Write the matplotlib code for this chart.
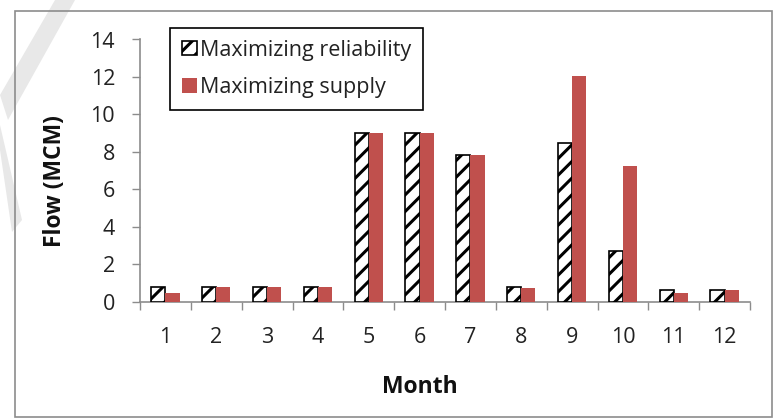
import matplotlib
matplotlib.use("Agg")
import matplotlib.pyplot as plt
from matplotlib.patches import Rectangle, Polygon
import numpy as np

months = ["1", "2", "3", "4", "5", "6", "7", "8", "9", "10", "11", "12"]
reliability = [0.8, 0.8, 0.8, 0.8, 9.0, 9.0, 7.85, 0.8, 8.5, 2.7, 0.62, 0.62]
supply = [0.48, 0.8, 0.8, 0.8, 9.0, 9.0, 7.85, 0.72, 12.07, 7.25, 0.45, 0.62]
yticks = [0, 2, 4, 6, 8, 10, 12, 14]

plt.rcParams['font.family'] = ['Open Sans', 'DejaVu Sans']
plt.rcParams['hatch.linewidth'] = 2.2

W, H = 774, 419
fig = plt.figure(figsize=(W / 100, H / 100), dpi=100)
fig.patch.set_facecolor('white')

# faint watermark strokes
fig.patches.append(Polygon([[0 / W, 1 - 95 / H], [55 / W, 1 - 0 / H], [75 / W, 1 - 0 / H], [8 / W, 1 - 120 / H]],
                           closed=True, transform=fig.transFigure, facecolor='#e8e8e8', edgecolor='none', zorder=0))
fig.patches.append(Polygon([[0 / W, 1 - 150 / H], [12 / W, 1 - 232 / H], [22 / W, 1 - 220 / H], [0 / W, 1 - 125 / H]],
                           closed=True, transform=fig.transFigure, facecolor='#e8e8e8', edgecolor='none', zorder=0))

# outer chart frame
fig.patches.append(Rectangle((15 / W, 1 - 417 / H), (772 - 15) / W, (417 - 11) / H,
                             transform=fig.transFigure, fill=False, edgecolor='#8c8c8c', linewidth=1.2, zorder=1))

ax = fig.add_axes([140 / W, 1 - 301.7 / H, (750 - 140) / W, (301.7 - 39.5) / H])
ax.set_facecolor('none')

x = np.arange(len(months))
bw = 0.28
ax.bar(x - bw / 2, reliability, bw, facecolor='white', edgecolor='black', hatch='//',
       linewidth=1.2, label='Maximizing reliability', zorder=3)
ax.bar(x + bw / 2, supply, bw, color='#c0504d', label='Maximizing supply', zorder=3)

ax.set_xlim(-0.5, len(months) - 0.5)
ax.set_ylim(0, 14)
ax.set_yticks(yticks)
ax.set_yticklabels([str(v) for v in yticks], fontsize=15.5, color='#222222')
ax.set_xticks(x)
ax.set_xticklabels(months, fontsize=15.5, color='#222222')
ax.tick_params(axis='x', length=0, pad=18)
ax.set_xticks(np.arange(-0.5, len(months), 1.0), minor=True)
ax.tick_params(axis='x', which='minor', length=6, color='#8c8c8c', width=1)
ax.tick_params(axis='y', length=6, color='#8c8c8c', width=1, pad=12)

for s in ['top', 'right']:
    ax.spines[s].set_visible(False)
for s in ['left', 'bottom']:
    ax.spines[s].set_color('#8c8c8c')
    ax.spines[s].set_linewidth(1.2)

ax.set_ylabel('Flow (MCM)', fontsize=16.5, fontweight='bold', color='#111111')
ax.yaxis.set_label_coords(-0.12, 0.46)
ax.set_xlabel('Month', fontsize=16.5, fontweight='bold', color='#111111')
ax.xaxis.set_label_coords(0.459, -0.28)

leg = ax.legend(loc='upper left', bbox_to_anchor=(30 / 610, (301.7 - 28) / 262.2), fontsize=15.5,
                frameon=True, fancybox=False, edgecolor='black', framealpha=1,
                handlelength=0.7, handleheight=0.65, handletextpad=0.15, labelspacing=0.75,
                borderpad=0.55, borderaxespad=0)
leg.get_frame().set_linewidth(1.2)
for t in leg.get_texts():
    t.set_color('#222222')

fig.savefig('out.png', dpi=100, facecolor='white')
